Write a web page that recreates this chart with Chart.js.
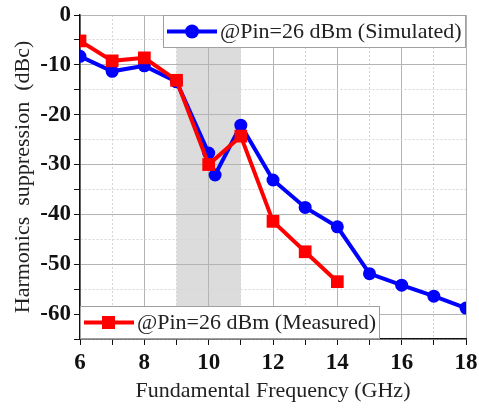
<!DOCTYPE html>
<html>
<head>
<meta charset="utf-8">
<script src="https://cdn.jsdelivr.net/npm/chart.js@4.4.1/dist/chart.umd.min.js"></script>
<style>
  html, body { margin: 0; padding: 0; background: #fff; }
  #wrap { width: 479px; height: 409px; }
</style>
</head>
<body>
<div id="wrap"><canvas id="harmonicsChart" width="479" height="409"></canvas></div>
<script>
// frecuencias (GHz) y supresion de armonicos (dBc)
const simFreq = [6, 7, 8, 9, 10, 10.2, 11, 12, 13, 14, 15, 16, 17, 18];
const simValues = [-8.3, -11.3, -10.2, -13.4, -27.7, -32.1, -22.1, -33.1, -38.6, -42.5, -51.9, -54.2, -56.4, -58.8];
const measFreq = [6, 7, 8, 9, 10, 11, 12, 13, 14];
const measValues = [-5.2, -9.2, -8.6, -13.1, -30.0, -24.3, -41.4, -47.5, -53.5];
const shadeBand = [9, 11];
const simLabel = "@Pin=26 dBm (Simulated)";
const measLabel = "@Pin=26 dBm (Measured)";
const xTitle = "Fundamental Frequency (GHz)";
const yTitle = "Harmonics  suppression  (dBc)";

const serif = "'Liberation Serif', 'Times New Roman', serif";

function toPoints(xs, ys) {
    return xs.map((x, i) => ({ x: x, y: ys[i] }));
}

// franja gris detras de la rejilla
const shadePlugin = {
    id: "shade",
    beforeDraw(chart) {
        const { ctx, chartArea, scales } = chart;
        const x0 = scales.x.getPixelForValue(shadeBand[0]);
        const x1 = scales.x.getPixelForValue(shadeBand[1]);
        ctx.save();
        ctx.fillStyle = "#dcdcdc";
        ctx.fillRect(x0, chartArea.top, x1 - x0, chartArea.bottom - chartArea.top);
        ctx.restore();
    }
};

// leyendas dibujadas a mano (una arriba, otra abajo)
function drawLegendBox(ctx, left, top, w, h, color, marker, text) {
    ctx.save();
    ctx.fillStyle = "#fff";
    ctx.fillRect(left, top, w, h);
    ctx.strokeStyle = "#a0a0a0";
    ctx.lineWidth = 1;
    ctx.strokeRect(left + 0.5, top + 0.5, w - 1, h - 1);
    const cy = top + h / 2;
    ctx.strokeStyle = color;
    ctx.lineWidth = 4;
    ctx.beginPath();
    ctx.moveTo(left + 4, cy);
    ctx.lineTo(left + 54, cy);
    ctx.stroke();
    ctx.fillStyle = color;
    if (marker === "circle") {
        ctx.beginPath();
        ctx.arc(left + 29, cy, 7, 0, Math.PI * 2);
        ctx.fill();
    } else {
        ctx.fillRect(left + 22, cy - 6.5, 13, 13);
    }
    ctx.fillStyle = "#222";
    ctx.font = "22px " + serif;
    ctx.textBaseline = "middle";
    ctx.textAlign = "left";
    ctx.fillText(text, left + 57, cy + 1);
    ctx.restore();
}

const legendPlugin = {
    id: "boxLegends",
    afterDraw(chart) {
        const { ctx, chartArea } = chart;
        drawLegendBox(ctx, chartArea.right - 303, chartArea.top, 303, 33, "#0000ff", "circle", simLabel);
        drawLegendBox(ctx, chartArea.left, chartArea.bottom - 33, 300, 33, "#ff0000", "rect", measLabel);
    }
};

function isMajorY(v) { return v % 10 === 0; }
function isMajorX(v) { return v % 2 === 0; }

new Chart(document.getElementById("harmonicsChart"), {
    type: "line",
    data: {
        datasets: [{
            label: measLabel,
            data: toPoints(measFreq, measValues),
            borderColor: "#ff0000",
            backgroundColor: "#ff0000",
            borderWidth: 4,
            pointStyle: "rect",
            pointRadius: 9,
            pointBorderWidth: 0,
            tension: 0
        }, {
            label: simLabel,
            data: toPoints(simFreq, simValues),
            borderColor: "#0000ff",
            backgroundColor: "#0000ff",
            borderWidth: 4,
            pointStyle: "circle",
            pointRadius: 6.5,
            pointBorderWidth: 0,
            tension: 0
        }]
    },
    options: {
        responsive: false,
        animation: false,
        layout: { padding: { top: 15, right: 13, bottom: 0, left: 0 } },
        plugins: { legend: { display: false }, tooltip: { enabled: false } },
        scales: {
            x: {
                type: "linear",
                min: 6,
                max: 18,
                afterBuildTicks(scale) {
                    const t = [];
                    for (let v = 6; v <= 18; v++) t.push({ value: v });
                    scale.ticks = t;
                },
                afterFit(scale) {
                    scale.height = 70;
                    scale.paddingLeft = 0;
                    scale.paddingRight = 0;
                },
                ticks: {
                    autoSkip: false,
                    maxRotation: 0,
                    padding: 4,
                    color: "#111",
                    font: { family: serif, size: 23, weight: "bold" },
                    callback: v => isMajorX(v) ? String(v) : ""
                },
                grid: {
                    color: ctx => isMajorX(ctx.tick.value) ? "#b4b4b4" : "#d6d6d6",
                    lineWidth: 1,
                    tickColor: "#111",
                    tickLength: 6
                },
                border: {
                    color: "#111",
                    width: 1.5,
                    dash: ctx => (ctx.tick && !isMajorX(ctx.tick.value)) ? [2, 2] : []
                },
                title: {
                    display: true,
                    text: xTitle,
                    color: "#222",
                    font: { family: serif, size: 22 },
                    padding: { top: 0, bottom: 5 }
                }
            },
            y: {
                min: -65,
                max: 0,
                afterBuildTicks(scale) {
                    const t = [];
                    for (let v = -65; v <= 0; v += 5) t.push({ value: v });
                    scale.ticks = t;
                },
                afterFit(scale) {
                    scale.width = 80;
                    scale.paddingTop = 0;
                    scale.paddingBottom = 0;
                },
                ticks: {
                    autoSkip: false,
                    padding: 3,
                    color: "#111",
                    font: { family: serif, size: 23, weight: "bold" },
                    callback: v => (isMajorY(v) && v !== -65) ? String(v) : ""
                },
                grid: {
                    color: ctx => isMajorY(ctx.tick.value) ? "#b4b4b4" : "#d6d6d6",
                    lineWidth: 1,
                    tickColor: "#111",
                    tickLength: 6
                },
                border: {
                    color: "#111",
                    width: 1.5,
                    dash: ctx => (ctx.tick && !isMajorY(ctx.tick.value)) ? [2, 2] : []
                },
                title: {
                    display: true,
                    text: yTitle,
                    color: "#222",
                    font: { family: serif, size: 22 },
                    padding: { top: 10, bottom: 0 }
                }
            }
        }
    },
    plugins: [shadePlugin, legendPlugin]
});
</script>
</body>
</html>
